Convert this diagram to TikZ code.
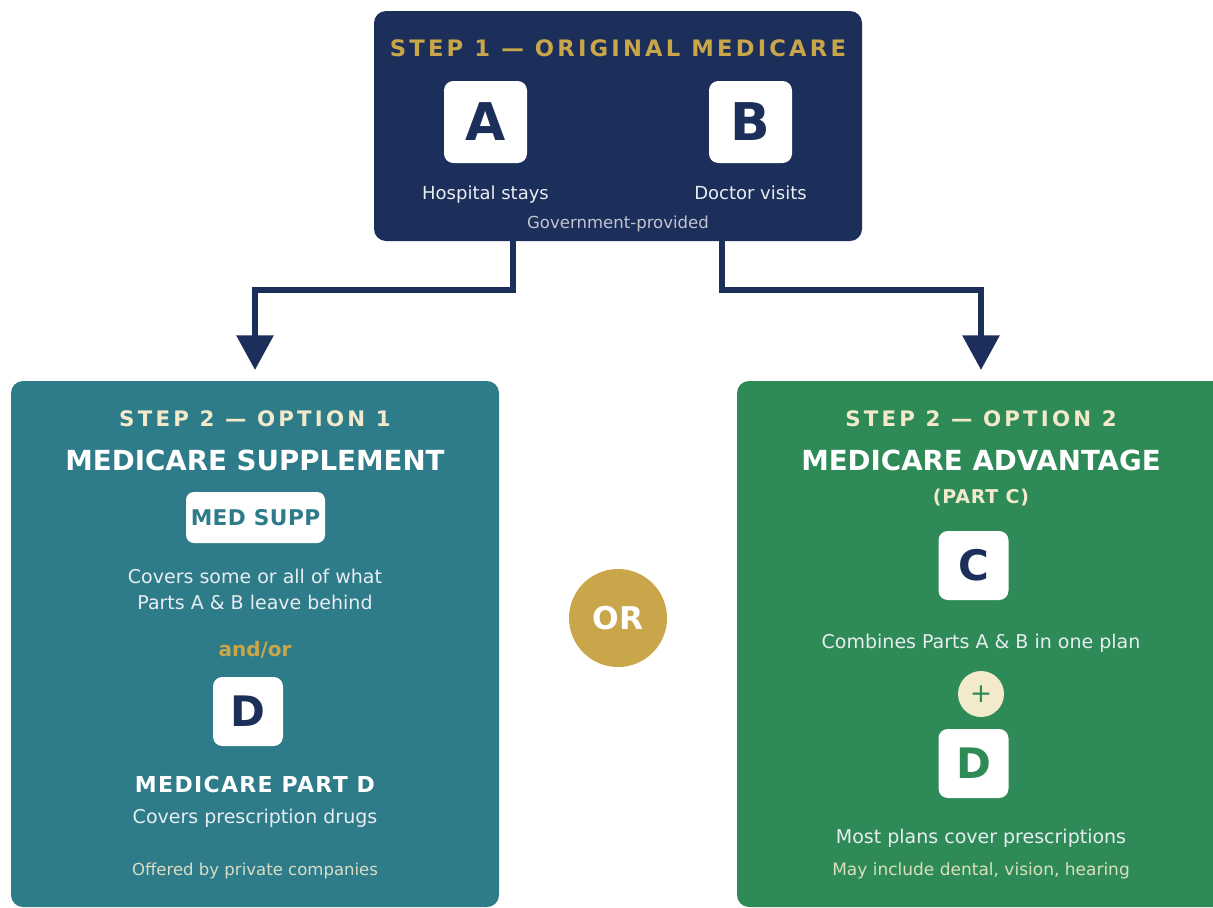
\documentclass[tikz,border=0pt]{standalone}
\usepackage{fontspec}
\setmainfont{DejaVu Sans}
\usetikzlibrary{arrows.meta}

\definecolor{navy}{HTML}{1C2E5A}
\definecolor{teal}{HTML}{2E7C8A}
\definecolor{leaf}{HTML}{2E8B57}
\definecolor{gold}{HTML}{C8A649}
\definecolor{cream}{HTML}{F3EACB}
\definecolor{softwhite}{HTML}{E8EDF1}

% font size in pt, tracking in fontspec LetterSpace units
\newcommand\fsz[1]{\fontsize{#1}{#1}\selectfont}
\newcommand\trk[1]{\addfontfeatures{LetterSpace=#1}}

\begin{document}
\begin{tikzpicture}[
  x=0.75pt, y=-0.75pt,
  txt/.style={anchor=base, inner sep=0pt},
  panel/.style={rounded corners=9pt, inner sep=0pt, minimum width=366pt},
  tile/.style={fill=white, rounded corners=7pt, inner sep=0pt,
               minimum width=52.5pt, minimum height=51.75pt, font=\bfseries\fsz{31.5}},
  bigtile/.style={tile, minimum width=62.25pt, minimum height=61.5pt, font=\bfseries\fsz{39}, text=navy},
  conn/.style={draw=navy, line width=4.5pt, line join=miter,
               -{Triangle[width=27pt, length=26pt]}},
]
\useasboundingbox (0,0) rectangle (1213,907);

% ---------- step 1 ----------
\node[panel, fill=navy, minimum height=172.5pt] (top) at (618,126) {};
\node[txt, text=gold, font=\bfseries\fsz{17}\trk{14}] (t1) at (618,56) {STEP 1 — ORIGINAL MEDICARE};
\node[bigtile] (pa) at (485.5,122) {A};
\node[bigtile] (pb) at (750.5,122) {B};
\node[txt, text=softwhite, font=\fsz{13.5}] (pal) at (485.5,199) {Hospital stays};
\node[txt, text=softwhite, font=\fsz{13.5}] (pbl) at (750.5,199) {Doctor visits};
\node[txt, text=white!72!navy, font=\fsz{12.4}] (gov) at (618,228) {Government-provided};

% ---------- step 2, option 1 ----------
\node[panel, fill=teal, minimum height=394.5pt] (left) at (255,644) {};
\node[txt, text=cream, font=\bfseries\fsz{16}\trk{15}] (o1) at (255,426) {STEP 2 — OPTION 1};
\node[txt, text=white, font=\bfseries\fsz{20.75}] (ms) at (255,470) {MEDICARE SUPPLEMENT};
\node[fill=white, rounded corners=6pt, inner sep=0pt, minimum width=104.25pt, minimum height=38.25pt,
      text=teal, font=\bfseries\fsz{16.25}\trk{2}] (medsupp) at (255.5,517.5) {MED SUPP};
\node[txt, text=softwhite, font=\fsz{14.25}] (ms1) at (255,583) {Covers some or all of what};
\node[txt, text=softwhite, font=\fsz{14.25}] (ms2) at (255,609) {Parts A \& B leave behind};
\node[txt, text=gold, font=\bfseries\fsz{15}] (andor) at (255,656) {and/or};
\node[tile, text=navy] (dl) at (248,711.5) {D};
\node[txt, text=white, font=\bfseries\fsz{16.5}\trk{6}] (pd) at (255,792) {MEDICARE PART D};
\node[txt, text=softwhite, font=\fsz{14.25}] (pd1) at (255,823) {Covers prescription drugs};
\node[txt, text=cream!88!teal, font=\fsz{12.4}] (priv) at (255,875) {Offered by private companies};

% ---------- step 2, option 2 ----------
\node[panel, fill=leaf, minimum height=394.5pt] (right) at (981,644) {};
\node[txt, text=cream, font=\bfseries\fsz{16}\trk{15}] (o2) at (981,426) {STEP 2 — OPTION 2};
\node[txt, text=white, font=\bfseries\fsz{20.75}] (ma) at (981,470) {MEDICARE ADVANTAGE};
\node[txt, text=cream, font=\bfseries\fsz{14.25}\trk{4}] (pc) at (981,503) {(PART C)};
\node[tile, text=navy] (pcc) at (973.5,565.5) {C};
\node[txt, text=softwhite, font=\fsz{14.25}] (ma1) at (981,648) {Combines Parts A \& B in one plan};
\node[circle, fill=cream, inner sep=0pt, minimum size=34.5pt, text=leaf, font=\fsz{20}] (plus) at (981,694) {+};
\node[tile, text=leaf] (dr) at (973.5,763.5) {D};
\node[txt, text=softwhite, font=\fsz{14.25}] (ma2) at (981,843) {Most plans cover prescriptions};
\node[txt, text=cream!88!leaf, font=\fsz{12.75}] (ma3) at (981,875) {May include dental, vision, hearing};

% ---------- OR badge ----------
\node[circle, fill=gold, inner sep=0pt, minimum size=73.5pt, text=white, font=\bfseries\fsz{23.5}] (or) at (618,618) {OR};

% ---------- connectors ----------
\coordinate (tapL) at (513,290);
\coordinate (tapR) at (722,290);
\coordinate (tipL) at (255,370);
\coordinate (tipR) at (981,370);
\draw[conn] (top.south -| tapL) -- (tapL) -| (tipL);
\draw[conn] (top.south -| tapR) -- (tapR) -| (tipR);
\end{tikzpicture}
\end{document}
